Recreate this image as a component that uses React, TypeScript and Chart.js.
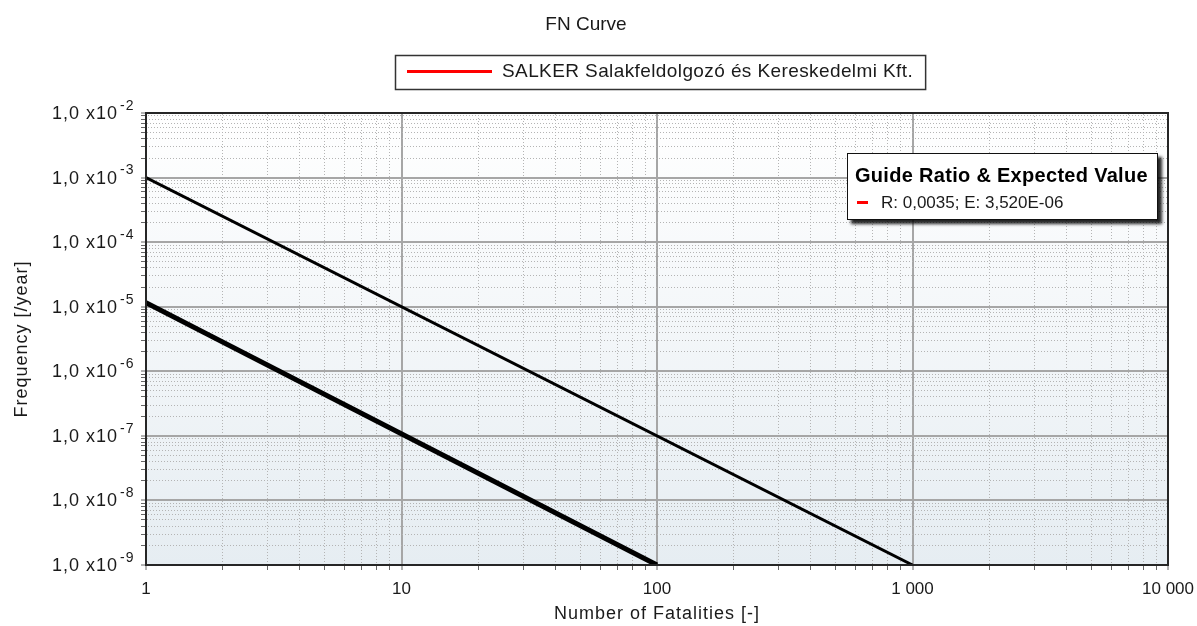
import React, { useEffect, useRef } from "react";
import { Chart, registerables } from "chart.js";

Chart.register(...registerables);

// ---- data ----
const chartTitle = "FN Curve";
const seriesLabel = "SALKER Salakfeldolgozó és Kereskedelmi Kft.";
const seriesX: number[] = [];
const seriesY: number[] = [];
const upperGuideX = [1, 1000];
const upperGuideY = [1e-3, 1e-9];
const lowerGuideX = [1, 100];
const lowerGuideY = [1.15e-5, 1e-9];
const xTickValues = [1, 10, 100, 1000, 10000];
const xTickLabels = ["1", "10", "100", "1 000", "10 000"];
const yExponents = [-9, -8, -7, -6, -5, -4, -3, -2];
const yMantissaLabel = "1,0 x10";
const guideTitle = "Guide Ratio & Expected Value";
const guideItem = "R: 0,0035; E: 3,520E-06";
const xAxisTitle = "Number of Fatalities [-]";
const yAxisTitle = "Frequency [/year]";

const FONT = "'Liberation Sans', Arial, sans-serif";
const TEXT = "#1a1a1a";

const isDecade = (v: number) => {
  const l = Math.log10(v);
  return Math.abs(l - Math.round(l)) < 1e-9;
};

const buildLogTicks = (min: number, max: number) => {
  const out: { value: number }[] = [];
  const e0 = Math.round(Math.log10(min));
  const e1 = Math.round(Math.log10(max));
  for (let e = e0; e < e1; e++) {
    for (let m = 1; m <= 9; m++) {
      out.push({ value: parseFloat((m * Math.pow(10, e)).toPrecision(12)) });
    }
  }
  out.push({ value: max });
  return out;
};

const makeDotPattern = (color: string) => {
  const c = document.createElement("canvas");
  c.width = 3;
  c.height = 3;
  const g = c.getContext("2d")!;
  g.fillStyle = color;
  for (let i = 0; i < 3; i++) g.fillRect(i, i, 1, 1);
  return document.createElement("canvas").getContext("2d")!.createPattern(c, "repeat") as CanvasPattern;
};

const drawText = (
  ctx: CanvasRenderingContext2D,
  text: string,
  x: number,
  y: number,
  font: string,
  align: CanvasTextAlign,
  spacing = 0,
  color = TEXT
) => {
  ctx.save();
  ctx.font = font;
  (ctx as any).letterSpacing = `${spacing}px`;
  ctx.textAlign = align;
  ctx.textBaseline = "middle";
  ctx.fillStyle = color;
  ctx.fillText(text, x, y);
  ctx.restore();
};

const measure = (ctx: CanvasRenderingContext2D, text: string, font: string, spacing = 0) => {
  ctx.save();
  ctx.font = font;
  (ctx as any).letterSpacing = `${spacing}px`;
  const w = ctx.measureText(text).width;
  ctx.restore();
  return w;
};

const decorPlugin = {
  id: "decor",
  beforeDraw(chart: any) {
    const { ctx, chartArea: a } = chart;
    ctx.save();
    const g = ctx.createLinearGradient(0, a.top, 0, a.bottom);
    g.addColorStop(0, "#ffffff");
    g.addColorStop(1, "#e6edf2");
    ctx.fillStyle = g;
    ctx.fillRect(a.left, a.top, a.right - a.left, a.bottom - a.top);
    ctx.restore();
  },
  afterDraw(chart: any) {
    const { ctx, chartArea: a } = chart;
    const ys = chart.scales.y;
    const cx = (a.left + a.right) / 2;
    const cy = (a.top + a.bottom) / 2;
    ctx.save();
    ctx.strokeStyle = "#262626";
    ctx.lineWidth = 2;
    ctx.strokeRect(a.left, a.top, a.right - a.left, a.bottom - a.top);
    ctx.restore();

    for (const e of yExponents) {
      const y = ys.getPixelForValue(Math.pow(10, e));
      drawText(ctx, yMantissaLabel, a.left - 28, y + 1, `18px ${FONT}`, "right", 1);
      drawText(ctx, String(e), a.left - 26, y - 7, `14px ${FONT}`, "left", 1);
    }

    drawText(ctx, xAxisTitle, cx, 614, `18px ${FONT}`, "center", 1);
    ctx.save();
    ctx.translate(22, cy);
    ctx.rotate(-Math.PI / 2);
    drawText(ctx, yAxisTitle, 0, 0, `18px ${FONT}`, "center", 1);
    ctx.restore();

    drawText(ctx, chartTitle, 586, 25, `19px ${FONT}`, "center", 0);

    const ds = chart.data.datasets[0];
    const lf = `19px ${FONT}`;
    const tw = measure(ctx, ds.label, lf, 0.4);
    const lw = 12 + 85 + 10 + tw + 12;
    const lx = Math.round(cx - lw / 2) + 3;
    ctx.save();
    ctx.lineWidth = 1.5;
    ctx.strokeStyle = "#333";
    ctx.strokeRect(lx + 0.5, 55.5, lw, 34);
    ctx.strokeStyle = ds.borderColor;
    ctx.lineWidth = 3;
    ctx.beginPath();
    ctx.moveTo(lx + 12, 71.5);
    ctx.lineTo(lx + 97, 71.5);
    ctx.stroke();
    ctx.restore();
    drawText(ctx, ds.label, lx + 107, 72, lf, "left", 0.4);

    const bx = 847, by = 153, bw = 311, bh = 67;
    ctx.save();
    ctx.shadowColor = "rgba(0,0,0,0.85)";
    ctx.shadowOffsetX = 4;
    ctx.shadowOffsetY = 4;
    ctx.shadowBlur = 3;
    ctx.fillStyle = "#ffffff";
    ctx.fillRect(bx, by, bw, bh);
    ctx.restore();
    ctx.save();
    ctx.strokeStyle = "#111";
    ctx.lineWidth = 1;
    ctx.strokeRect(bx + 0.5, by + 0.5, bw - 1, bh - 1);
    ctx.strokeStyle = ds.borderColor;
    ctx.lineWidth = 3;
    ctx.beginPath();
    ctx.moveTo(857, 202.5);
    ctx.lineTo(868, 202.5);
    ctx.stroke();
    ctx.restore();
    drawText(ctx, guideTitle, 855, 176, `bold 20px ${FONT}`, "left", 0.3, "#000");
    drawText(ctx, guideItem, 881, 203, `17px ${FONT}`, "left", 0);
  },
};

export default function App() {
  const ref = useRef<HTMLCanvasElement | null>(null);

  useEffect(() => {
    if (!ref.current) return;
    const minorPattern = makeDotPattern("#b4b4b4");
    const gridColor = (c: any) =>
      c.tick && isDecade(c.tick.value) ? "#a6a6a6" : minorPattern;
    const gridWidth = (c: any) => (c.tick && isDecade(c.tick.value) ? 2 : 1);

    const chart = new Chart(ref.current, {
      type: "scatter",
      data: {
        datasets: [
          {
            label: seriesLabel,
            data: seriesX.map((x, i) => ({ x, y: seriesY[i] })),
            borderColor: "#ff0000",
            backgroundColor: "#ff0000",
            borderWidth: 3,
            showLine: true,
            pointRadius: 0,
          },
          {
            label: "Guide upper",
            data: upperGuideX.map((x, i) => ({ x, y: upperGuideY[i] })),
            borderColor: "#000000",
            borderWidth: 3,
            showLine: true,
            pointRadius: 0,
          },
          {
            label: "Guide lower",
            data: lowerGuideX.map((x, i) => ({ x, y: lowerGuideY[i] })),
            borderColor: "#000000",
            borderWidth: 5,
            showLine: true,
            pointRadius: 0,
          },
        ],
      },
      options: {
        animation: false,
        responsive: true,
        maintainAspectRatio: false,
        events: [],
        font: { family: FONT },
        layout: { padding: { top: 113, right: 29, bottom: 0, left: 0 } },
        plugins: {
          legend: { display: false },
          title: { display: false },
          tooltip: { enabled: false },
        },
        scales: {
          x: {
            type: "logarithmic",
            min: xTickValues[0],
            max: xTickValues[xTickValues.length - 1],
            afterBuildTicks: (s: any) => {
              s.ticks = buildLogTicks(s.min, s.max);
            },
            afterFit: (s: any) => {
              s.height = 61;
              s.paddingLeft = 0;
              s.paddingRight = 0;
            },
            ticks: {
              autoSkip: false,
              maxRotation: 0,
              padding: 9,
              color: TEXT,
              font: { family: FONT, size: 17 },
              callback: (v: any) => {
                const i = xTickValues.findIndex((t) => Math.abs(t - Number(v)) < 1e-9 * t);
                return i >= 0 ? xTickLabels[i] : "";
              },
            },
            grid: {
              color: gridColor,
              lineWidth: gridWidth,
              tickColor: "#666",
              tickLength: 5,
              tickWidth: 1,
            },
            border: { color: "#262626", width: 2 },
            title: { display: false },
          },
          y: {
            type: "logarithmic",
            min: Math.pow(10, yExponents[0]),
            max: Math.pow(10, yExponents[yExponents.length - 1]),
            afterBuildTicks: (s: any) => {
              s.ticks = buildLogTicks(s.min, s.max);
            },
            afterFit: (s: any) => {
              s.width = 146;
              s.paddingTop = 0;
              s.paddingBottom = 0;
            },
            ticks: {
              autoSkip: false,
              callback: () => "",
            },
            grid: {
              color: gridColor,
              lineWidth: gridWidth,
              tickColor: "#666",
              tickLength: 5,
              tickWidth: 1,
            },
            border: { color: "#262626", width: 2 },
            title: { display: false },
          },
        },
      },
      plugins: [decorPlugin],
    } as any);
    return () => chart.destroy();
  }, []);

  return (
    <div style={{ position: "fixed", left: 0, top: 0, width: 1197, height: 626, background: "#fff" }}>
      <canvas ref={ref} />
    </div>
  );
}
